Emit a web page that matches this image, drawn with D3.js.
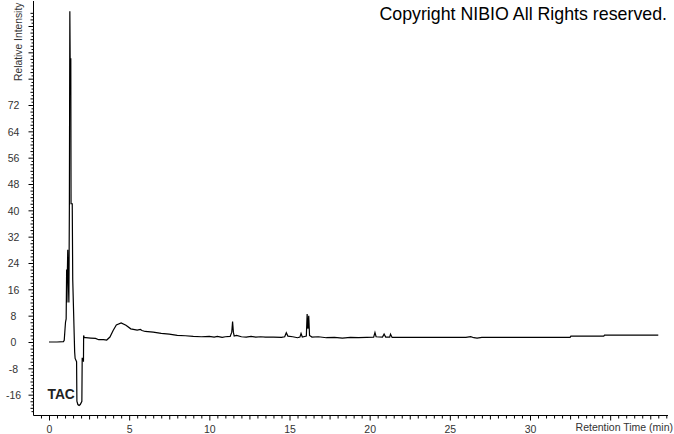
<!DOCTYPE html>
<html><head><meta charset="utf-8">
<script src="https://cdn.jsdelivr.net/npm/d3@7"></script>
<style>
html,body{margin:0;padding:0;background:#fff;}
svg{display:block;font-family:"Liberation Sans",Arial,sans-serif;}
</style></head>
<body><svg id="c" width="674" height="434"></svg>
<script>
// Retention time (min)
const times = [0,0.5,0.9,0.95,1.0,1.03,1.07,1.1,1.12,1.14,1.17,1.2,1.24,1.27,1.3,1.32,1.34,1.36,1.375,1.45,1.48,1.6,1.63,1.72,1.74,1.8,1.875,1.95,2.05,2.07,2.1,2.14,2.15,2.16,2.2,2.3,2.6,2.9,3.1,3.4,3.6,3.8,4.0,4.2,4.5,4.8,5.1,5.5,5.7,5.8,6.0,6.5,7.0,7.5,8.0,8.5,9.0,9.5,10.0,10.3,10.5,10.8,11.0,11.3,11.4,11.45,11.5,11.55,11.7,12.0,12.3,12.6,12.9,13.2,13.5,14.0,14.5,14.7,14.8,14.9,15.2,15.5,15.65,15.72,15.8,16.05,16.1,16.15,16.2,16.25,16.4,16.8,17.3,17.8,18.3,18.8,19.3,19.8,20.25,20.33,20.4,20.8,20.9,21.0,21.25,21.3,21.4,22,24,26,26.3,26.5,26.7,27,30,32.5,32.55,34.6,34.65,38.0];
// Relative intensity
const intensity = [0,0,0.1,0.5,4,6,7,22,12,20,28,20,12,40,100.5,86,86,86,42,42,19,-3,-5,-6,-18,-19,-19.3,-19,-18,-5,-5,-5,-6,2.0,1.3,1.3,1.2,1.1,0.7,0.7,0.6,1.5,3.5,5.2,5.8,5.1,4.0,3.6,3.8,3.5,3.2,3.0,2.6,2.4,2.0,1.9,1.7,1.6,1.7,1.5,1.7,1.4,1.6,1.7,3,6.2,3,1.8,2.0,1.6,1.5,1.7,1.5,1.6,1.5,1.5,1.4,1.6,2.8,1.8,1.6,1.3,1.5,2.6,1.5,1.8,8.5,4,8,2.0,1.5,1.6,1.3,1.4,1.2,1.4,1.3,1.4,1.5,2.9,1.6,1.5,2.4,1.5,1.5,2.4,1.4,1.4,1.4,1.4,1.6,1.3,1.2,1.4,1.4,1.4,1.8,1.8,2.1,2.1];
const xTickLabels = [0,5,10,15,20,25,30];
const yTickLabels = [-16,-8,0,8,16,24,32,40,48,56,64,72];
const xTitle = "Retention Time (min)";
const yTitle = "Relative Intensity";
const copyright = "Copyright NIBIO All Rights reserved.";
const traceLabel = "TAC";

const svg = d3.select("#c");
const x = d3.scaleLinear().domain([0,30]).range([49,530]);
const y = d3.scaleLinear().domain([0,72]).range([342,105]);
const xMin = x.invert(33.5), xMax = x.invert(668);
const yMin = y.invert(415.5), yMax = y.invert(1);

const xMinor = d3.range(-0.5, 38.6, 0.5).filter(v => v % 2.5 !== 0);
const xMid = d3.range(0, 38.6, 2.5).filter(v => v % 5 !== 0);
const xMajor = d3.range(0, 38.6, 5);
function styleAxis(g){ g.select(".domain").remove(); g.selectAll("line").attr("stroke","#000"); }
svg.append("g").attr("transform","translate(0,415.5)")
  .call(d3.axisBottom(x).tickValues(xMinor).tickSize(3).tickFormat("")).call(styleAxis);
svg.append("g").attr("transform","translate(0,415.5)")
  .call(d3.axisBottom(x).tickValues(xMid).tickSize(4).tickFormat("")).call(styleAxis);
const xg = svg.append("g").attr("transform","translate(0,415.5)")
  .call(d3.axisBottom(x).tickValues(xMajor).tickSize(5)
    .tickFormat(d => xTickLabels.includes(d) ? d : "")).call(styleAxis);
xg.selectAll("text").attr("fill","#333").attr("font-size","10.5px")
  .attr("font-family","Liberation Sans, Arial, sans-serif").attr("y",10).attr("dy","0.71em");

const yMinor = d3.range(-21, 101, 1).filter(v => v % 2 !== 0);
const yMid = d3.range(-20, 101, 2).filter(v => v % 8 !== 0);
const yMajor = d3.range(-16, 101, 8);
svg.append("g").attr("transform","translate(33.5,0)")
  .call(d3.axisLeft(y).tickValues(yMinor).tickSize(2).tickFormat("")).call(styleAxis);
svg.append("g").attr("transform","translate(33.5,0)")
  .call(d3.axisLeft(y).tickValues(yMid).tickSize(3).tickFormat("")).call(styleAxis);
const yg = svg.append("g").attr("transform","translate(33.5,0)")
  .call(d3.axisLeft(y).tickValues(yMajor).tickSize(5)
    .tickFormat(d => yTickLabels.includes(d) ? d : "")).call(styleAxis);
yg.selectAll("text").attr("fill","#333").attr("font-size","10.5px")
  .attr("font-family","Liberation Sans, Arial, sans-serif")
  .attr("text-anchor","middle").attr("x",-20).attr("dy","0.36em");

svg.append("line").attr("x1",x(xMin)).attr("x2",x(xMax)).attr("y1",415.5).attr("y2",415.5)
  .attr("stroke","#000");
svg.append("line").attr("x1",33.5).attr("x2",33.5).attr("y1",y(yMin)).attr("y2",y(yMax))
  .attr("stroke","#000");

const data = times.map((t,i) => [t, intensity[i]]);
svg.append("path").datum(data)
  .attr("d", d3.line().x(d => x(d[0])).y(d => y(d[1])))
  .attr("fill","none").attr("stroke","#000").attr("stroke-width",1.2)
  .attr("stroke-linejoin","miter");

svg.append("text").attr("transform","translate(22,81) rotate(-90)")
  .attr("font-size","10.3px").attr("fill","#333").text(yTitle);
svg.append("text").attr("x",673).attr("y",431).attr("text-anchor","end")
  .attr("font-size","10.5px").attr("fill","#333").text(xTitle);
svg.append("text").attr("x",667).attr("y",20).attr("text-anchor","end")
  .attr("font-size","17.8px").attr("fill","#000").text(copyright);
svg.append("text").attr("x",47.5).attr("y",398.5)
  .attr("font-size","13.8px").attr("font-weight","bold").attr("fill","#222").text(traceLabel);
</script></body></html>
